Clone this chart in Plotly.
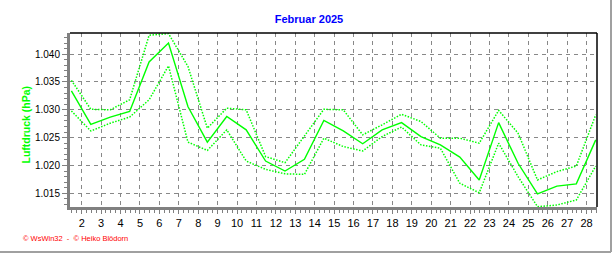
import plotly.graph_objects as go

days = list(range(1, 29))
mean_p = [1.0334, 1.0274, 1.0287, 1.0297, 1.0386, 1.0420, 1.0306, 1.0242, 1.0288, 1.0264,
          1.0208, 1.0190, 1.0211, 1.0281, 1.0262, 1.0239, 1.0264, 1.0277, 1.0252, 1.0237,
          1.0215, 1.0174, 1.0277, 1.0204, 1.0149, 1.0163, 1.0167, 1.0246]
max_p = [1.0353, 1.0301, 1.0300, 1.0318, 1.0434, 1.0437, 1.0378, 1.0267, 1.0303, 1.0300,
         1.0216, 1.0205, 1.0253, 1.0301, 1.0300, 1.0255, 1.0273, 1.0292, 1.0279, 1.0249,
         1.0249, 1.0240, 1.0299, 1.0258, 1.0174, 1.0189, 1.0199, 1.0291]
min_p = [1.0298, 1.0262, 1.0276, 1.0287, 1.0318, 1.0379, 1.0242, 1.0227, 1.0264, 1.0208,
         1.0193, 1.0185, 1.0184, 1.0249, 1.0234, 1.0226, 1.0252, 1.0269, 1.0237, 1.0231,
         1.0168, 1.0151, 1.0240, 1.0180, 1.0126, 1.0129, 1.0138, 1.0199]
tick_days = list(range(2, 29))
y_ticks = [1.015, 1.020, 1.025, 1.030, 1.035, 1.040]

x = [d + 0.47 for d in days]
GREEN = "#00FF00"
FONT = "Liberation Sans, Arial, sans-serif"

fig = go.Figure()
fig.add_trace(go.Scatter(x=x, y=max_p, mode="lines",
                         line=dict(color=GREEN, width=1.5, dash="1.5px,1.5px"), hoverinfo="skip"))
fig.add_trace(go.Scatter(x=x, y=min_p, mode="lines",
                         line=dict(color=GREEN, width=1.5, dash="1.5px,1.5px"), hoverinfo="skip"))
fig.add_trace(go.Scatter(x=x, y=mean_p, mode="lines",
                         line=dict(color=GREEN, width=1.4), hoverinfo="skip"))

fig.update_layout(
    width=616, height=253,
    margin=dict(l=70, r=19, t=33, b=46),
    paper_bgcolor="white", plot_bgcolor="white",
    showlegend=False,
    title=dict(text="<b>Februar 2025</b>", x=309/616, xanchor="center", y=1-19/253, yanchor="middle",
               font=dict(family=FONT, size=11, color="#0000FF")),
    xaxis=dict(range=[1.398, 28.535], tickvals=tick_days, ticktext=[str(d) for d in tick_days],
               showgrid=True, gridcolor="#888888", griddash="4px,4px", gridwidth=1,
               showline=True, linecolor="#808080", linewidth=3,
               ticks="outside", ticklen=4, tickcolor="#808080", tickwidth=1,
               minor=dict(dtick=0.25, tick0=0, ticks="outside", ticklen=3, tickcolor="#808080", showgrid=False),
               tickfont=dict(family=FONT, size=11, color="black"), zeroline=False, fixedrange=True),
    yaxis=dict(range=[1.01254, 1.0438], tickvals=y_ticks, ticktext=["%.3f" % v for v in y_ticks],
               showgrid=True, gridcolor="#888888", griddash="4px,4px", gridwidth=1,
               showline=True, linecolor="#808080", linewidth=3,
               ticks="outside", ticklen=5, tickcolor="#808080", tickwidth=1,
               minor=dict(dtick=0.001, tick0=1.0, ticks="outside", ticklen=3, tickcolor="#808080", showgrid=False),
               tickfont=dict(family=FONT, size=10, color="black"), zeroline=False, fixedrange=True),
)

fig.add_annotation(text="<b>Luftdruck (hPa)</b>", textangle=-90, xref="paper", yref="paper",
                   x=(25.5-70)/527, y=(207-125)/174, xanchor="center", yanchor="middle",
                   showarrow=False, font=dict(family=FONT, size=10.5, color=GREEN))

# top and right black border of plot area
fig.add_shape(type="line", xref="paper", yref="paper", x0=0, x1=1, y0=1, y1=1,
              line=dict(color="black", width=1.5))
fig.add_shape(type="line", xref="paper", yref="paper", x0=1, x1=1, y0=0, y1=1,
              line=dict(color="black", width=1.5))
# outer gray frame lines (right and bottom)
fig.add_shape(type="line", xref="paper", yref="paper",
              x0=(611-70)/527, x1=(611-70)/527, y0=(207-252)/174, y1=207/174,
              line=dict(color="#A0A0A0", width=2))
fig.add_shape(type="line", xref="paper", yref="paper",
              x0=-70/527, x1=(611-70)/527, y0=(207-252)/174, y1=(207-252)/174,
              line=dict(color="#A0A0A0", width=2))

fig.add_annotation(text="© WsWin32  -  © Heiko Blödorn", xref="paper", yref="paper",
                   x=(21-70)/527, y=(207-238)/174, xanchor="left", yanchor="middle",
                   showarrow=False, font=dict(family=FONT, size=7.5, color="#FF0000"))

fig.write_html("out.html")
